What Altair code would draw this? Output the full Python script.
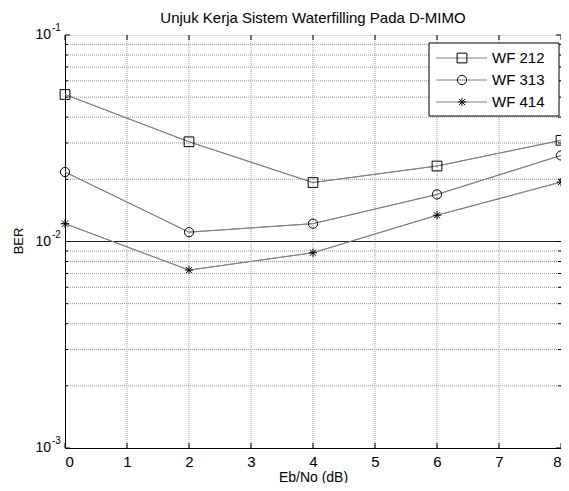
import altair as alt
import pandas as pd

# ---- data ----
x_ebno = [0, 2, 4, 6, 8]
ber_wf212 = [0.0515, 0.0304, 0.0193, 0.0232, 0.0309]
ber_wf313 = [0.0217, 0.0111, 0.0122, 0.0169, 0.0261]
ber_wf414 = [0.0122, 0.00727, 0.00882, 0.0134, 0.0194]
series_names = ["WF 212", "WF 313", "WF 414"]
series_values = [ber_wf212, ber_wf313, ber_wf414]

x_ticks = [0, 1, 2, 3, 4, 5, 6, 7, 8]
x_grid = [1, 2, 3, 4, 5, 6, 7]
y_major = [0.001, 0.01, 0.1]
y_exponents = ["-3", "-2", "-1"]
y_minor = [0.002, 0.003, 0.004, 0.005, 0.006, 0.007, 0.008, 0.009,
           0.02, 0.03, 0.04, 0.05, 0.06, 0.07, 0.08, 0.09]

title_text = "Unjuk Kerja Sistem Waterfilling Pada D-MIMO"
x_title = "Eb/No (dB)"
y_title = "BER"

# ---- styling ----
W, H = 496, 413
FONT = "Liberation Sans"
LINE_GRAY = "#808080"
GRID_GRAY = "#9a9a9a"
STAR = "M-1,0L1,0M0,-1L0,1M-0.72,-0.72L0.72,0.72M-0.72,0.72L0.72,-0.72"
marker_shapes = ["square", "circle", STAR]
marker_sizes = [95, 85, 70]

xs = alt.Scale(domain=[0, 8], nice=False, zero=False)
ys = alt.Scale(type="log", domain=[0.001, 0.1], nice=False)

x_axis = alt.Axis(values=x_ticks, format="d", labelFont=FONT, labelFontSize=15, labelColor="black",
                  labelPadding=6, ticks=False, grid=False, domainColor="black", domainWidth=1,
                  title=x_title, titleFont=FONT, titleFontSize=14, titleFontWeight="normal",
                  titleColor="black", titleY=33, titleBaseline="alphabetic")
y_axis = alt.Axis(labels=False, ticks=False, grid=False, domainColor="black", domainWidth=1,
                  title=y_title, titleFont=FONT, titleFontSize=13, titleFontWeight="normal",
                  titleColor="black", titleX=-47, titleY=H / 2 - 1, titleAngle=270,
                  titleAlign="center", titleBaseline="middle")


def X(field="ebno"):
    return alt.X(f"{field}:Q", scale=xs, axis=x_axis)


def Y(field="ber"):
    return alt.Y(f"{field}:Q", scale=ys, axis=y_axis)


rows = []
for name, vals in zip(series_names, series_values):
    for xv, yv in zip(x_ebno, vals):
        rows.append({"series": name, "ebno": xv, "ber": yv})
df = pd.DataFrame(rows)

df_xgrid = pd.DataFrame({"ebno": x_grid})
df_xticks = pd.DataFrame({"ebno": x_ticks})
df_yminor = pd.DataFrame({"ber": y_minor})
df_ymajor = pd.DataFrame({"ber": y_major, "exp": y_exponents, "base": ["10"] * 3})

layers = []

# series lines first (carry the axes)
layers.append(alt.Chart(df).mark_line(color=LINE_GRAY, strokeWidth=1).encode(
    x=X(), y=Y(), detail="series:N"))

# grid
layers.append(alt.Chart(df_xgrid).mark_rule(color=GRID_GRAY, strokeWidth=1, strokeDash=[1, 1])
              .encode(x=X()))
layers.append(alt.Chart(df_yminor).mark_rule(color=GRID_GRAY, strokeWidth=1, strokeDash=[1, 1])
              .encode(y=Y()))
layers.append(alt.Chart(df_ymajor[df_ymajor["ber"] == 0.01]).mark_rule(color="#222222", strokeWidth=1)
              .encode(y=Y()))

# inward ticks
layers.append(alt.Chart(df_xticks).mark_rule(color="black").encode(
    x=X(), y=alt.value(H), y2=alt.value(H - 5)))
layers.append(alt.Chart(df_xticks).mark_rule(color="black").encode(
    x=X(), y=alt.value(0), y2=alt.value(5)))
layers.append(alt.Chart(df_yminor).mark_rule(color="black").encode(
    y=Y(), x=alt.value(0), x2=alt.value(3)))
layers.append(alt.Chart(df_yminor).mark_rule(color="black").encode(
    y=Y(), x=alt.value(W), x2=alt.value(W - 3)))
layers.append(alt.Chart(df_ymajor).mark_rule(color="black").encode(
    y=Y(), x=alt.value(0), x2=alt.value(5)))
layers.append(alt.Chart(df_ymajor).mark_rule(color="black").encode(
    y=Y(), x=alt.value(W), x2=alt.value(W - 5)))

# lines again on top of the grid
layers.append(alt.Chart(df).mark_line(color=LINE_GRAY, strokeWidth=1).encode(
    x=X(), y=Y(), detail="series:N"))

# markers
for name, shp, sz in zip(series_names, marker_shapes, marker_sizes):
    layers.append(alt.Chart(df[df["series"] == name]).mark_point(
        shape=shp, size=sz, filled=False, color="black", strokeWidth=1, opacity=1).encode(
        x=X(), y=Y()))

# y tick labels 10^n
layers.append(alt.Chart(df_ymajor).mark_text(align="right", baseline="middle", font=FONT,
                                             fontSize=14, color="black", dx=-14).encode(
    y=Y(), x=alt.value(0), text="base:N"))
layers.append(alt.Chart(df_ymajor).mark_text(align="left", baseline="middle", font=FONT,
                                             fontSize=10, color="black", dx=-13, dy=-7).encode(
    y=Y(), x=alt.value(0), text="exp:N"))

# legend
LX0, LX1, LY0, LY1 = 364, 494, 8, 81
entry_y = [23, 45, 67]
legend_box = pd.DataFrame({"k": [0]})
layers.append(alt.Chart(legend_box).mark_rect(fill="white", stroke="black", strokeWidth=1).encode(
    x=alt.value(LX0), x2=alt.value(LX1), y=alt.value(LY0), y2=alt.value(LY1)))
for name, shp, sz, ey in zip(series_names, marker_shapes, marker_sizes, entry_y):
    d = pd.DataFrame({"label": [name]})
    layers.append(alt.Chart(d).mark_rule(color=LINE_GRAY, strokeWidth=1).encode(
        x=alt.value(LX0 + 7), x2=alt.value(LX0 + 58), y=alt.value(ey)))
    layers.append(alt.Chart(d).mark_point(shape=shp, size=sz, filled=False, color="black",
                                          strokeWidth=1, opacity=1).encode(
        x=alt.value(LX0 + 33), y=alt.value(ey)))
    layers.append(alt.Chart(d).mark_text(align="left", baseline="middle", font=FONT, fontSize=15,
                                         color="black").encode(
        x=alt.value(LX0 + 63), y=alt.value(ey), text="label:N"))

chart = alt.layer(*layers).properties(
    width=W, height=H,
    autosize=alt.AutoSizeParams(type="none"),
    padding={"left": 57, "top": 27, "right": 0, "bottom": 35},
    title=alt.TitleParams(title_text, font=FONT, fontSize=15, fontWeight="normal", color="black",
                          anchor="middle", frame="group", baseline="alphabetic", offset=-15),
).configure_view(stroke="black", strokeWidth=1).configure(background="white")

chart.save("out.html", embed_options={"renderer": "svg", "actions": False})
